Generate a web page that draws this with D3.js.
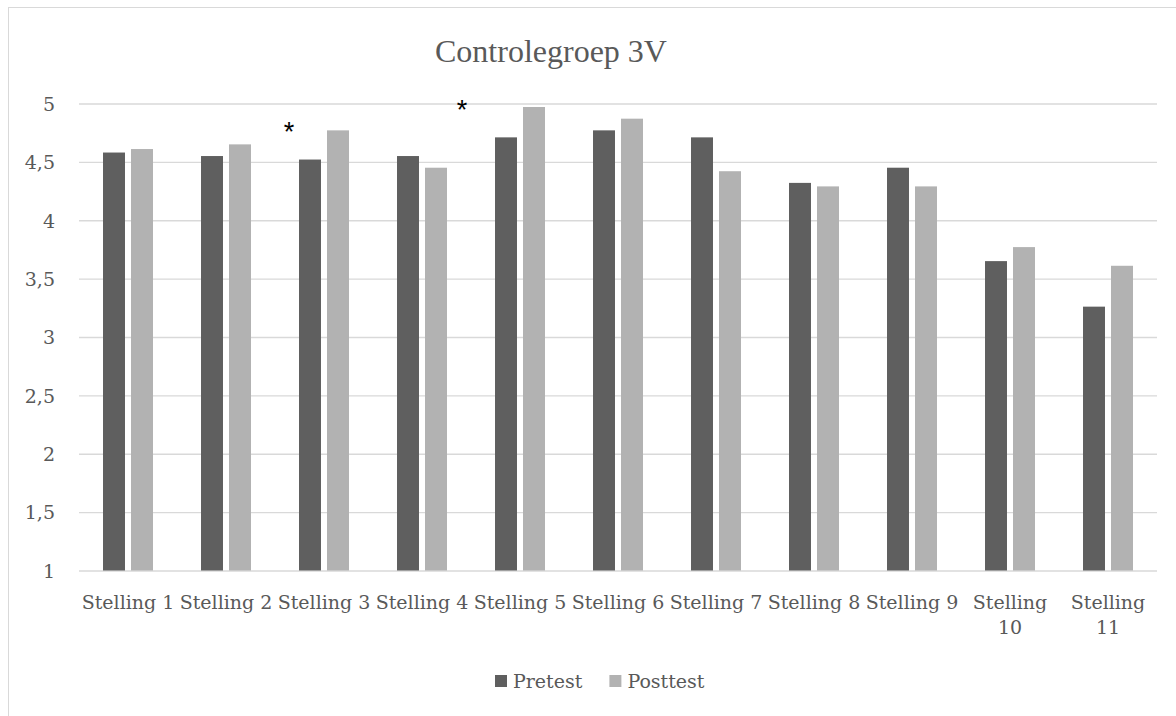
<!DOCTYPE html>
<meta charset="utf-8">
<head>
  <title>Controlegroep 3V</title>
  <style>
  body { margin: 0; background: #fff; }
  .grid line { stroke: #d9d9d9; stroke-width: 1.3px; }
  .grid .domain, .xaxis .domain { display: none; }
  .grid text, .xaxis text, .legend text {
    font-family: "DejaVu Serif", serif;
    font-size: 19px;
    fill: #595959;
  }
  </style>
</head>
<html>
  <body>
    <svg width="1176" height="716"></svg>
  </body>
</html>
<script src="https://d3js.org/d3.v7.min.js"></script>
<script>
var categories = ["Stelling 1", "Stelling 2", "Stelling 3", "Stelling 4", "Stelling 5", "Stelling 6",
                  "Stelling 7", "Stelling 8", "Stelling 9", "Stelling 10", "Stelling 11"];
var seriesNames = ["Pretest", "Posttest"];
var pretest  = [4.58, 4.55, 4.52, 4.55, 4.71, 4.77, 4.71, 4.32, 4.45, 3.65, 3.26];
var posttest = [4.61, 4.65, 4.77, 4.45, 4.97, 4.87, 4.42, 4.29, 4.29, 3.77, 3.61];
var yTicks = [1, 1.5, 2, 2.5, 3, 3.5, 4, 4.5, 5];
var yTickLabels = ["1", "1,5", "2", "2,5", "3", "3,5", "4", "4,5", "5"];
// significance marks: category, height in data units
var marks = [{cat: "Stelling 3", value: 4.81}, {cat: "Stelling 5", value: 5.0}];

var colors = {"Pretest": "#5f5f5f", "Posttest": "#b2b2b2"};

var svg = d3.select("svg"),
    margin = {top: 103.5, left: 79},
    width = 1078,
    height = 467,
    g = svg.append("g").attr("transform", "translate(" + margin.left + "," + margin.top + ")");

// chart border
svg.append("rect")
    .attr("x", 8.5).attr("y", 7.5)
    .attr("width", 1200).attr("height", 800)
    .attr("fill", "none")
    .attr("stroke", "#d9d9d9");

svg.append("text")
    .attr("x", 551).attr("y", 62)
    .attr("text-anchor", "middle")
    .attr("font-family", "Liberation Serif, Times New Roman, serif")
    .attr("font-size", 32)
    .attr("fill", "#595959")
    .text("Controlegroep 3V");

var x0 = d3.scaleBand().domain(categories).range([0, width])
    .paddingInner(0.49).paddingOuter(0.245);
var x1 = d3.scaleBand().domain(seriesNames).range([0, x0.bandwidth()]).paddingInner(0.215);
var y = d3.scaleLinear().domain([1, 5]).range([height, 0]);

g.append("g")
    .attr("class", "grid")
    .call(d3.axisLeft(y).tickValues(yTicks)
      .tickFormat(function(d, i) { return yTickLabels[i]; })
      .tickSize(-width).tickPadding(24))
    .selectAll("text").attr("dy", "0.36em");

g.append("g")
    .attr("class", "xaxis")
    .attr("transform", "translate(0," + height + ")")
    .call(d3.axisBottom(x0).tickSize(0).tickPadding(25))
    .selectAll("text")
    .call(wrap, x0.step());

var rows = categories.map(function(c, i) {
  return {cat: c, values: [{name: "Pretest", v: pretest[i]}, {name: "Posttest", v: posttest[i]}]};
});

g.append("g").selectAll("g")
  .data(rows)
  .join("g")
    .attr("transform", function(d) { return "translate(" + x0(d.cat) + ",0)"; })
  .selectAll("rect")
  .data(function(d) { return d.values; })
  .join("rect")
    .attr("x", function(d) { return x1(d.name); })
    .attr("y", function(d) { return y(d.v); })
    .attr("width", x1.bandwidth())
    .attr("height", function(d) { return height - y(d.v); })
    .attr("fill", function(d) { return colors[d.name]; });

// asterisks placed by hand in the original, left of the pretest bar
var markOffset = {"Stelling 3": -10, "Stelling 5": -33};
g.selectAll(".mark")
  .data(marks)
  .join("text")
    .attr("class", "mark")
    .attr("x", function(d) { return x0(d.cat) + markOffset[d.cat]; })
    .attr("y", function(d) { return y(d.value); })
    .attr("dy", "0.58em")
    .attr("text-anchor", "middle")
    .attr("font-family", "Liberation Sans, Arial, sans-serif")
    .attr("font-size", 27)
    .attr("fill", "#000")
    .text("*");

// legend
var legend = svg.append("g").attr("class", "legend");
var lx = 495;
seriesNames.forEach(function(name) {
  legend.append("rect")
      .attr("x", lx).attr("y", 675)
      .attr("width", 12).attr("height", 12)
      .attr("fill", colors[name]);
  var t = legend.append("text")
      .attr("x", lx + 18).attr("y", 688)
      .text(name);
  lx += 18 + t.node().getComputedTextLength() + 27;
});

function wrap(text, w) {
  text.each(function() {
    var text = d3.select(this),
        words = text.text().split(/\s+/),
        yy = text.attr("y"),
        dy = parseFloat(text.attr("dy"));
    if (this.getComputedTextLength() <= w) return;
    text.text(null);
    words.forEach(function(word, i) {
      text.append("tspan")
          .attr("x", 0)
          .attr("y", yy)
          .attr("dy", (dy + i * 1.32) + "em")
          .text(word);
    });
  });
}
</script>
